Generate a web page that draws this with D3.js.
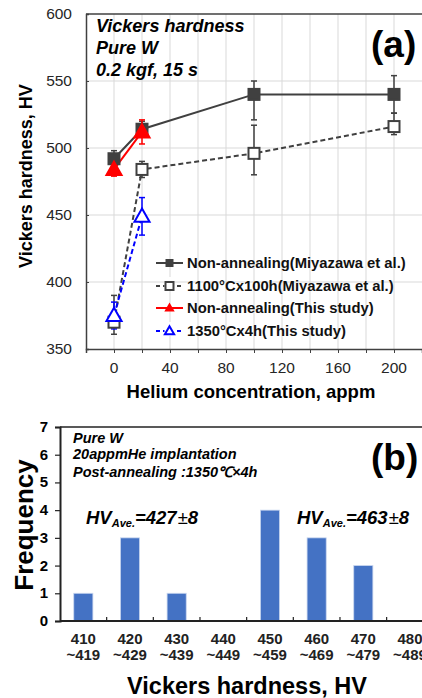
<!DOCTYPE html>
<html lang="en">
<head>
    <meta charset="UTF-8">
    <title>Vickers hardness of pure W</title>
    <script src="https://d3js.org/d3.v7.min.js"></script>
    <style>
        body { margin: 0; background: #fff; font-family: "Liberation Sans", Arial, sans-serif; }
        svg { display: block; }
        .tick-a { font-size: 15.5px; fill: #262626; }
        .bold { font-weight: bold; }
        .note { font-weight: bold; font-style: italic; }
    </style>
</head>
<body>
    <svg id="chart"></svg>

    <script>
        // ---- panel (a) data ----
        const helium = [0, 20, 100, 200];
        const seriesNames = [
            "Non-annealing(Miyazawa et al.)",
            "1100°Cx100h(Miyazawa et al.)",
            "Non-annealing(This study)",
            "1350°Cx4h(This study)"
        ];
        const miyazawaNon = [492, 514, 540, 540];
        const miyazawaNonErrHi = [6, 6, 10, 14];
        const miyazawaNonErrLo = [6, 6, 19, 14];
        const miyazawa1100 = [370, 484, 496, 516];
        const miyazawa1100ErrHi = [20, 6, 21, 10];
        const miyazawa1100ErrLo = [9, 6, 16, 6];
        const studyNon = [484, 512];
        const studyNonErr = [5, 9];
        const study1350 = [375, 449];
        const study1350Err = [10, 14];
        const xTicksA = [0, 40, 80, 120, 160, 200];
        const yTicksA = [350, 400, 450, 500, 550, 600];

        // ---- panel (b) data ----
        const binLow = ["410", "420", "430", "440", "450", "460", "470", "480"];
        const binHigh = ["~419", "~429", "~439", "~449", "~459", "~469", "~479", "~489"];
        const frequency = [1, 3, 1, 0, 4, 3, 2, 0];
        const yTicksB = [0, 1, 2, 3, 4, 5, 6, 7];

        const W = 422, H = 698;
        const svg = d3.select('#chart').attr('width', W).attr('height', H);

        const dark = '#404040';

        // ================= panel (a) =================
        const x = d3.scaleLinear().domain([-20, 220]).range([86, 422]);
        const y = d3.scaleLinear().domain([350, 600]).range([349, 14]);

        const gA = svg.append('g');

        // grid
        gA.append('g').selectAll('line')
            .data(d3.range(0, 220, 20))
            .join('line')
            .attr('x1', d => x(d)).attr('x2', d => x(d))
            .attr('y1', y(600)).attr('y2', y(350))
            .attr('stroke', '#d9d9d9').attr('stroke-width', 1);
        gA.append('g').selectAll('line')
            .data([400, 450, 500, 550])
            .join('line')
            .attr('x1', x(-20)).attr('x2', W)
            .attr('y1', d => y(d)).attr('y2', d => y(d))
            .attr('stroke', '#d9d9d9').attr('stroke-width', 1);

        // axes
        const xAxisA = gA.append('g')
            .attr('transform', `translate(0,${y(350)})`)
            .call(d3.axisBottom(x).tickValues(d3.range(-20, 221, 20)).tickSize(4).tickFormat(''));
        xAxisA.select('.domain').attr('stroke', dark).attr('stroke-width', 1.5);
        xAxisA.selectAll('.tick line').attr('stroke', dark);

        const yAxisA = gA.append('g')
            .attr('transform', `translate(${x(-20)},0)`)
            .call(d3.axisRight(y).tickValues(yTicksA).tickSize(3).tickFormat(''));
        yAxisA.select('.domain').attr('stroke', dark).attr('stroke-width', 1.5);
        yAxisA.selectAll('.tick line').attr('stroke', dark);

        gA.append('line')
            .attr('x1', x(-20)).attr('x2', W)
            .attr('y1', y(600)).attr('y2', y(600))
            .attr('stroke', dark).attr('stroke-width', 1.5);

        gA.append('g').selectAll('text')
            .data(xTicksA)
            .join('text')
            .attr('class', 'tick-a')
            .attr('x', d => x(d)).attr('y', 373)
            .attr('text-anchor', 'middle')
            .text(d => d);
        gA.append('g').selectAll('text')
            .data(yTicksA)
            .join('text')
            .attr('class', 'tick-a')
            .attr('x', 72).attr('y', d => y(d) + 5)
            .attr('text-anchor', 'end')
            .text(d => d);

        gA.append('text')
            .attr('class', 'bold')
            .attr('x', 251).attr('y', 398)
            .attr('text-anchor', 'middle')
            .style('font-size', '18.5px')
            .text('Helium concentration, appm');
        gA.append('text')
            .attr('class', 'bold')
            .attr('transform', `translate(32,176) rotate(-90)`)
            .attr('text-anchor', 'middle')
            .style('font-size', '18px')
            .text('Vickers hardness, HV');

        // annotations
        [['Vickers hardness', 32], ['Pure W', 54], ['0.2 kgf, 15 s', 76]].forEach(([t, yy]) => {
            gA.append('text').attr('class', 'note')
                .attr('x', 96).attr('y', yy)
                .style('font-size', '18px').text(t);
        });
        gA.append('text').attr('class', 'bold')
            .attr('x', 371).attr('y', 57)
            .style('font-size', '37px').text('(a)');

        // series
        const series = [
            { xs: helium, ys: miyazawaNon, hi: miyazawaNonErrHi, lo: miyazawaNonErrLo,
              color: dark, dash: null, shape: 'square', fill: dark },
            { xs: helium, ys: miyazawa1100, hi: miyazawa1100ErrHi, lo: miyazawa1100ErrLo,
              color: dark, dash: '5,3', shape: 'square', fill: '#fff' },
            { xs: helium.slice(0, 2), ys: studyNon, hi: studyNonErr, lo: studyNonErr,
              color: '#ff0000', dash: null, shape: 'triangle', fill: '#ff0000' },
            { xs: helium.slice(0, 2), ys: study1350, hi: study1350Err, lo: study1350Err,
              color: '#0000ff', dash: '5,3', shape: 'triangle', fill: '#fff' }
        ];

        const line = d3.line().x(d => x(d[0])).y(d => y(d[1]));

        function marker(g, shape, size, color, fill) {
            if (shape === 'square') {
                g.append('rect')
                    .attr('x', -size / 2).attr('y', -size / 2)
                    .attr('width', size).attr('height', size)
                    .attr('fill', fill).attr('stroke', color).attr('stroke-width', 2);
            } else {
                const s = size;
                g.append('path')
                    .attr('d', `M0,${-s * 0.6}L${s * 0.58},${s * 0.42}L${-s * 0.58},${s * 0.42}Z`)
                    .attr('fill', fill).attr('stroke', color).attr('stroke-width', 2)
                    .attr('stroke-linejoin', 'miter');
            }
        }

        // error bars first
        series.forEach(s => {
            const eg = gA.append('g').attr('stroke', s.color).attr('stroke-width', 1.5);
            s.xs.forEach((xv, i) => {
                const cx = x(xv);
                const top = y(s.ys[i] + s.hi[i]);
                const bot = y(s.ys[i] - s.lo[i]);
                eg.append('line').attr('x1', cx).attr('x2', cx).attr('y1', top).attr('y2', bot);
                eg.append('line').attr('x1', cx - 3).attr('x2', cx + 3).attr('y1', top).attr('y2', top);
                eg.append('line').attr('x1', cx - 3).attr('x2', cx + 3).attr('y1', bot).attr('y2', bot);
            });
        });

        series.forEach(s => {
            const pts = s.xs.map((xv, i) => [xv, s.ys[i]]);
            gA.append('path')
                .datum(pts)
                .attr('d', line)
                .attr('fill', 'none')
                .attr('stroke', s.color)
                .attr('stroke-width', 2)
                .attr('stroke-dasharray', s.dash);
        });

        series.forEach(s => {
            s.xs.forEach((xv, i) => {
                const g = gA.append('g').attr('transform', `translate(${x(xv)},${y(s.ys[i])})`);
                marker(g, s.shape, s.shape === 'square' ? 11 : 13, s.color, s.fill);
            });
        });

        // legend
        const legendY = [263, 286, 308, 331];
        series.forEach((s, i) => {
            const lg = gA.append('g').attr('transform', `translate(156,${legendY[i]})`);
            lg.append('line').attr('x1', 0).attr('x2', 27)
                .attr('stroke', s.color).attr('stroke-width', 2)
                .attr('stroke-dasharray', s.dash ? '4,3' : null);
            const mg = lg.append('g').attr('transform', 'translate(13.5,0)');
            if (s.fill === '#fff') {
                mg.append('rect').attr('x', -5).attr('y', -9).attr('width', 10).attr('height', 14).attr('fill', '#fff');
            }
            marker(mg, s.shape, s.fill === '#fff' ? 8 : 6, s.color, s.fill);
            lg.append('text').attr('class', 'bold')
                .attr('x', 31).attr('y', 5)
                .style('font-size', '14.8px')
                .attr('fill', '#111')
                .text(seriesNames[i]);
        });

        // ================= panel (b) =================
        const xb = d3.scaleBand().domain(binLow).range([60, 433.3])
            .paddingInner(0.59).paddingOuter(0.295);
        const xbStep = d3.scaleBand().domain(binLow).range([60, 433.3]);
        const yb = d3.scaleLinear().domain([0, 7]).range([621, 427]);

        const gB = svg.append('g');

        gB.append('g').selectAll('rect')
            .data(frequency)
            .join('rect')
            .attr('x', (d, i) => xb(binLow[i]))
            .attr('width', xb.bandwidth())
            .attr('y', d => yb(d))
            .attr('height', d => yb(0) - yb(d))
            .attr('fill', '#4472c4')
            .attr('stroke', '#c9d6ef').attr('stroke-width', 0.8);

        gB.append('line')
            .attr('x1', 60).attr('x2', W)
            .attr('y1', yb(7)).attr('y2', yb(7))
            .attr('stroke', '#222').attr('stroke-width', 1.5);

        gB.append('line')
            .attr('x1', 60).attr('x2', W)
            .attr('y1', yb(0)).attr('y2', yb(0))
            .attr('stroke', '#222').attr('stroke-width', 2);
        gB.append('g').selectAll('line')
            .data(binLow.slice(1))
            .join('line')
            .attr('x1', d => xbStep(d)).attr('x2', d => xbStep(d))
            .attr('y1', yb(0)).attr('y2', yb(0) - 4)
            .attr('stroke', '#222').attr('stroke-width', 1.2);

        const yAxisB = gB.append('g')
            .attr('transform', 'translate(60,0)')
            .call(d3.axisLeft(yb).tickValues(yTicksB).tickSize(5).tickFormat(''));
        yAxisB.select('.domain').attr('stroke', '#222').attr('stroke-width', 2);
        yAxisB.selectAll('.tick line').attr('stroke', '#222').attr('stroke-width', 1.2);

        gB.append('g').selectAll('text')
            .data(yTicksB)
            .join('text')
            .attr('class', 'bold')
            .attr('x', 48).attr('y', d => yb(d) + 5)
            .attr('text-anchor', 'end')
            .style('font-size', '15px')
            .text(d => d);

        const xLabels = gB.append('g').selectAll('text')
            .data(binLow)
            .join('text')
            .attr('class', 'bold')
            .attr('text-anchor', 'middle')
            .style('font-size', '15px')
            .attr('fill', '#222');
        xLabels.append('tspan')
            .attr('x', d => xb(d) + xb.bandwidth() / 2).attr('y', 644)
            .text(d => d);
        xLabels.append('tspan')
            .attr('x', d => xb(d) + xb.bandwidth() / 2).attr('y', 660)
            .text((d, i) => binHigh[i]);

        gB.append('text')
            .attr('class', 'bold')
            .attr('x', 247).attr('y', 694)
            .attr('text-anchor', 'middle')
            .style('font-size', '23.5px')
            .text('Vickers hardness, HV');
        gB.append('text')
            .attr('class', 'bold')
            .attr('transform', 'translate(33,525) rotate(-90)')
            .attr('text-anchor', 'middle')
            .style('font-size', '26px')
            .text('Frequency');

        [['Pure W', 443], ['20appmHe implantation', 459], ['Post-annealing :1350℃×4h', 477]].forEach(([t, yy]) => {
            gB.append('text').attr('class', 'note')
                .attr('x', 73).attr('y', yy)
                .style('font-size', '14.5px').text(t);
        });
        gB.append('text').attr('class', 'bold')
            .attr('x', 371).attr('y', 470)
            .style('font-size', '37px').text('(b)');

        [[86, '427'], [297, '463']].forEach(([xx, v]) => {
            const t = gB.append('text').attr('class', 'note')
                .attr('x', xx).attr('y', 524)
                .style('font-size', '18.5px');
            t.append('tspan').text('HV');
            t.append('tspan').attr('dy', 3).style('font-size', '11px').text('Ave.');
            t.append('tspan').attr('dy', -3).text('=' + v);
            t.append('tspan').style('font-weight', 'normal').style('font-style', 'normal').attr('dx', 1).text('±');
            t.append('tspan').text('8');
        });
    </script>
</body>
</html>
